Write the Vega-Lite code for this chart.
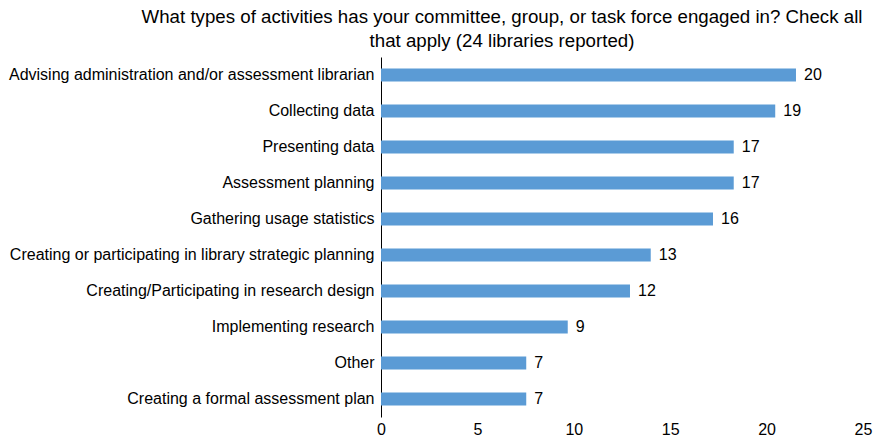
{
  "$schema": "https://vega.github.io/schema/vega-lite/v6.json",
  "width": 482,
  "height": 360,
  "autosize": "none",
  "padding": {"left": 381, "top": 57, "right": 16, "bottom": 21},
  "config": {"view": {"stroke": null}, "font": "Liberation Sans"},
  "title": {
    "text": ["What types of activities has your committee, group, or task force engaged in? Check all", "that apply (24 libraries reported)"],
    "fontSize": 18.7,
    "fontWeight": "normal",
    "color": "black",
    "anchor": "middle",
    "frame": "group",
    "dx": -120,
    "offset": 6,
    "lineHeight": 24
  },
  "data": {
    "values": [
      {"activity": "Advising administration and/or assessment librarian", "count": 20},
      {"activity": "Collecting data", "count": 19},
      {"activity": "Presenting data", "count": 17},
      {"activity": "Assessment planning", "count": 17},
      {"activity": "Gathering usage statistics", "count": 16},
      {"activity": "Creating or participating in library strategic planning", "count": 13},
      {"activity": "Creating/Participating in research design", "count": 12},
      {"activity": "Implementing research", "count": 9},
      {"activity": "Other", "count": 7},
      {"activity": "Creating a formal assessment plan", "count": 7}
    ]
  },
  "encoding": {
    "y": {
      "field": "activity",
      "type": "nominal",
      "sort": null,
      "scale": {"paddingInner": 0, "paddingOuter": 0},
      "axis": {
        "title": null,
        "ticks": false,
        "domainColor": "black",
        "domainWidth": 1,
        "labelFontSize": 16,
        "labelColor": "black",
        "labelPadding": 7,
        "labelLimit": 400
      }
    }
  },
  "layer": [
    {
      "mark": {"type": "bar", "color": "#5B9BD5", "size": 13},
      "encoding": {
        "x": {"field": "count", "type": "quantitative", "scale": {"domain": [0, 23.23]}, "axis": null}
      }
    },
    {
      "mark": {"type": "text", "align": "left", "baseline": "middle", "dx": 8, "fontSize": 16, "color": "black"},
      "encoding": {
        "x": {"field": "count", "type": "quantitative", "scale": {"domain": [0, 23.23]}, "axis": null},
        "text": {"field": "count", "type": "quantitative"}
      }
    },
    {
      "mark": {"type": "point", "opacity": 0},
      "encoding": {
        "x": {
          "field": "count",
          "type": "quantitative",
          "scale": {"domain": [0, 25]},
          "axis": {
            "title": null,
            "values": [0, 5, 10, 15, 20, 25],
            "domain": false,
            "ticks": false,
            "grid": false,
            "labelFlush": false,
            "labelFontSize": 16,
            "labelColor": "black",
            "labelPadding": 4
          }
        }
      }
    }
  ],
  "resolve": {"scale": {"x": "independent"}}
}
